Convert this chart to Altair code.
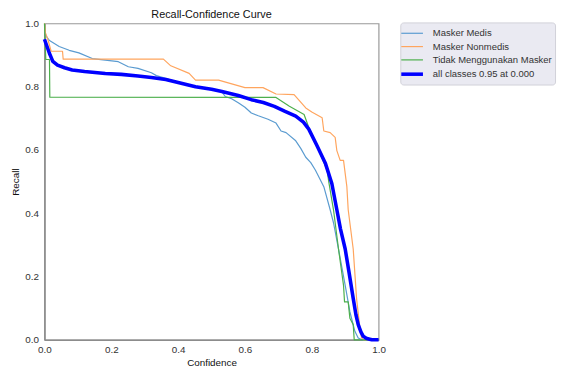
import altair as alt
import pandas as pd

series_names = ["Masker Medis", "Masker Nonmedis", "Tidak Menggunakan Masker", "all classes 0.95 at 0.000"]
series_colors = ["#5a9bd0", "#ffa55e", "#4caf4c", "#0000ff"]
series_widths = [1.2, 1.2, 1.2, 3.6]

medis_x = [0.0, 0.005, 0.015, 0.044, 0.074, 0.103, 0.143, 0.182, 0.221, 0.251, 0.28, 0.32, 0.335, 0.36, 0.40,
           0.45, 0.50, 0.53, 0.541, 0.56, 0.58, 0.60, 0.619, 0.64, 0.669, 0.693, 0.708, 0.723, 0.752, 0.767,
           0.782, 0.797, 0.811, 0.836, 0.855, 0.865, 0.88, 0.90, 0.914, 0.929, 0.939, 0.95, 1.0]
medis_y = [0.975, 0.96, 0.946, 0.927, 0.915, 0.907, 0.889, 0.884, 0.879, 0.863, 0.858, 0.844, 0.835, 0.827, 0.814,
           0.801, 0.792, 0.785, 0.769, 0.762, 0.749, 0.735, 0.717, 0.708, 0.697, 0.685, 0.660, 0.655, 0.629, 0.605,
           0.577, 0.560, 0.536, 0.484, 0.411, 0.37, 0.287, 0.172, 0.089, 0.027, 0.006, 0.0, 0.0]

nonmedis_x = [0.0, 0.003, 0.01, 0.02, 0.054, 0.056, 0.356, 0.378, 0.433, 0.452, 0.521, 0.6, 0.654, 0.693, 0.747,
              0.782, 0.80, 0.831, 0.836, 0.855, 0.87, 0.875, 0.885, 0.895, 0.905, 0.909, 0.924, 0.934, 0.944,
              0.949, 0.955, 1.0]
nonmedis_y = [1.0, 0.97, 0.95, 0.912, 0.912, 0.887, 0.887, 0.866, 0.842, 0.821, 0.821, 0.797, 0.797, 0.777, 0.775,
              0.733, 0.72, 0.702, 0.66, 0.655, 0.64, 0.598, 0.567, 0.567, 0.484, 0.411, 0.287, 0.131, 0.037,
              0.006, 0.0, 0.0]

tidak_x = [0.0, 0.004, 0.015, 0.016, 0.693, 0.733, 0.777, 0.791, 0.821, 0.846, 0.85, 0.865, 0.88, 0.895, 0.898,
           0.909, 0.914, 0.924, 0.927, 1.0]
tidak_y = [1.0, 0.886, 0.886, 0.767, 0.766, 0.738, 0.712, 0.671, 0.598, 0.536, 0.505, 0.411, 0.287, 0.172, 0.12,
           0.12, 0.068, 0.048, 0.0, 0.0]

all_x = [0.0, 0.005, 0.015, 0.025, 0.039, 0.06, 0.083, 0.12, 0.182, 0.23, 0.28, 0.32, 0.363, 0.40, 0.452, 0.50,
         0.531, 0.58, 0.619, 0.655, 0.688, 0.72, 0.752, 0.775, 0.791, 0.815, 0.841, 0.86, 0.875, 0.886, 0.90,
         0.912, 0.924, 0.932, 0.939, 0.947, 0.954, 0.963, 0.973, 0.98, 1.0]
all_y = [0.95, 0.935, 0.905, 0.88, 0.868, 0.86, 0.853, 0.848, 0.842, 0.839, 0.834, 0.829, 0.823, 0.813, 0.80, 0.792,
         0.785, 0.772, 0.759, 0.75, 0.738, 0.722, 0.707, 0.688, 0.666, 0.615, 0.557, 0.494, 0.411, 0.35, 0.287,
         0.21, 0.131, 0.08, 0.048, 0.025, 0.011, 0.005, 0.002, 0.0, 0.0]

tick_values = [0.0, 0.2, 0.4, 0.6, 0.8, 1.0]

rows = []
for name, xs, ys in zip(series_names, [medis_x, nonmedis_x, tidak_x, all_x], [medis_y, nonmedis_y, tidak_y, all_y]):
    for i, (xv, yv) in enumerate(zip(xs, ys)):
        rows.append({"series": name, "conf": xv, "recall": yv, "idx": i})
df = pd.DataFrame(rows)

FONT = "Liberation Sans"

legend = alt.Legend(
    title=None,
    orient="none",
    legendX=361,
    legendY=-1,
    fillColor="#eaeaf2",
    strokeColor="#d0d0d8",
    cornerRadius=3,
    padding=3,
    symbolType="M-1.57,0H1.57",
    symbolSize=196,
    symbolStrokeWidth=alt.ExprRef(expr="datum.value === '" + series_names[3] + "' ? 3 : 1.2"),
    labelOffset=12,
    labelFontSize=9.6,
    labelFont=FONT,
    labelColor="#333333",
    rowPadding=0.5,
    labelLimit=300,
)

chart = alt.Chart(df).mark_line(strokeJoin="round", strokeCap="butt").encode(
    x=alt.X("conf:Q", scale=alt.Scale(domain=[0, 1], nice=False, zero=False),
            axis=alt.Axis(title="Confidence", values=tick_values, format=".1f", labelFlush=False)),
    y=alt.Y("recall:Q", scale=alt.Scale(domain=[0, 1], nice=False, zero=False),
            axis=alt.Axis(title="Recall", values=tick_values, format=".1f", labelFlush=False)),
    color=alt.Color("series:N", scale=alt.Scale(domain=series_names, range=series_colors), legend=legend),
    strokeWidth=alt.StrokeWidth("series:N",
                                scale=alt.Scale(type="ordinal", domain=series_names, range=series_widths),
                                legend=None),
    order=alt.Order("idx:Q"),
    detail="series:N",
).properties(
    width=339,
    height=321,
    background="white",
    title=alt.TitleParams(text="Recall-Confidence Curve", fontSize=11, font=FONT, fontWeight="normal",
                          color="#111111", offset=0, dy=2, anchor="middle"),
    autosize=alt.AutoSizeParams(type="none"),
    padding={"left": 37, "top": 13, "right": 182, "bottom": 30},
).configure_view(
    stroke="#999999", strokeWidth=1.2
).configure_axis(
    grid=False,
    ticks=False,
    domainColor="#8c8c8c",
    domainWidth=1.6,
    labelFont=FONT,
    labelFontSize=10,
    labelColor="#333333",
    titleFont=FONT,
    titleFontSize=10,
    titleFontWeight="normal",
    titleColor="#111111",
).configure_axisX(
    labelPadding=5, titlePadding=3
).configure_axisY(
    labelPadding=6, titlePadding=4
)

chart.save("out.html", embed_options={"renderer": "svg", "actions": False})
